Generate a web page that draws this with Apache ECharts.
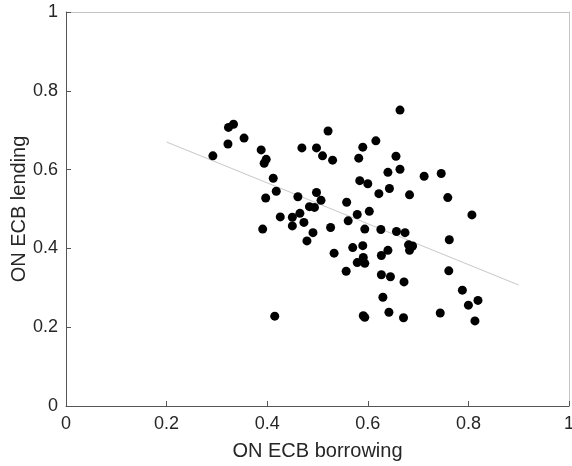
<!DOCTYPE html>
<html>
<head>
<meta charset="utf-8">
<script src="https://cdn.jsdelivr.net/npm/echarts@6/dist/echarts.min.js"></script>
<style>html,body{margin:0;padding:0;background:#fff}#c{width:572px;height:466px}</style>
</head>
<body>
<div id="c"></div>
<script>
// ON ECB borrowing (x) values
const borrowing = [
  0.292, 0.323, 0.333, 0.322, 0.354, 0.388, 0.398, 0.394, 0.412, 0.418,
  0.397, 0.461, 0.469, 0.498, 0.498, 0.507, 0.484, 0.494, 0.426, 0.450,
  0.465, 0.450, 0.473, 0.491, 0.479, 0.391, 0.415, 0.521, 0.510, 0.530,
  0.590, 0.616, 0.582, 0.664, 0.656, 0.640, 0.664, 0.712, 0.746, 0.584,
  0.600, 0.643, 0.622, 0.683, 0.759, 0.558, 0.579, 0.603, 0.561, 0.807,
  0.526, 0.594, 0.626, 0.657, 0.674, 0.681, 0.689, 0.683, 0.570, 0.590,
  0.640, 0.627, 0.533, 0.591, 0.579, 0.594, 0.557, 0.627, 0.645, 0.672,
  0.630, 0.642, 0.591, 0.594, 0.671, 0.762, 0.761, 0.788, 0.819, 0.800,
  0.744, 0.813
];
// ON ECB lending (y) values
const lending = [
  0.635, 0.707, 0.715, 0.665, 0.680, 0.650, 0.626, 0.616, 0.578, 0.545,
  0.528, 0.531, 0.655, 0.655, 0.542, 0.522, 0.506, 0.504, 0.480, 0.479,
  0.489, 0.457, 0.466, 0.440, 0.419, 0.449, 0.228, 0.698, 0.635, 0.624,
  0.657, 0.673, 0.629, 0.751, 0.634, 0.593, 0.601, 0.583, 0.590, 0.572,
  0.564, 0.552, 0.539, 0.536, 0.529, 0.517, 0.486, 0.494, 0.470, 0.485,
  0.453, 0.449, 0.448, 0.443, 0.440, 0.409, 0.406, 0.395, 0.402, 0.407,
  0.395, 0.382, 0.388, 0.377, 0.364, 0.362, 0.342, 0.333, 0.328, 0.315,
  0.276, 0.238, 0.229, 0.225, 0.224, 0.422, 0.343, 0.294, 0.268, 0.256,
  0.236, 0.216
];
// Fitted trend line end points
const trendX = [0.2, 0.9];
const trendY = [0.670, 0.307];
const xTicks = [0, 0.2, 0.4, 0.6, 0.8, 1];
const yTicks = [0, 0.2, 0.4, 0.6, 0.8, 1];

const points = borrowing.map((x, i) => [x, lending[i]]);
const trend = trendX.map((x, i) => [x, trendY[i]]);

const txt = '#262626';
const font = 'Liberation Sans, Arial, Helvetica, sans-serif';
const chart = echarts.init(document.getElementById('c'), null, {renderer: 'canvas'});
chart.setOption({
  animation: false,
  backgroundColor: '#fff',
  grid: {left: 66, right: 3, top: 12, bottom: 60, containLabel: false, outerBoundsMode: 'none'},
  xAxis: [{
    type: 'value', min: 0, max: 1, interval: 0.2,
    name: 'ON ECB borrowing', nameLocation: 'middle', nameGap: 35, nameMoveOverlap: false,
    nameTextStyle: {color: txt, fontSize: 20, fontFamily: font},
    axisLine: {show: true, lineStyle: {color: '#555', width: 1}},
    axisTick: {show: true, inside: true, length: 5, lineStyle: {color: '#555'}},
    axisLabel: {color: txt, fontSize: 18, fontFamily: font, margin: 9,
      formatter: v => xTicks.includes(+v.toFixed(1)) ? String(+v.toFixed(1)) : ''},
    splitLine: {show: false}
  }, {
    type: 'value', min: 0, max: 1, position: 'top',
    axisLine: {show: true, onZero: false, lineStyle: {color: '#c4c4c4', width: 1}},
    axisTick: {show: false}, axisLabel: {show: false}, splitLine: {show: false}
  }],
  yAxis: [{
    type: 'value', min: 0, max: 1, interval: 0.2,
    name: 'ON ECB lending', nameLocation: 'middle', nameGap: 37, nameMoveOverlap: false,
    nameTextStyle: {color: txt, fontSize: 20, fontFamily: font},
    axisLine: {show: true, lineStyle: {color: '#555', width: 1}},
    axisTick: {show: true, inside: true, length: 5, lineStyle: {color: '#555'}},
    axisLabel: {color: txt, fontSize: 18, fontFamily: font, margin: 8,
      formatter: v => yTicks.includes(+v.toFixed(1)) ? String(+v.toFixed(1)) : ''},
    splitLine: {show: false}
  }, {
    type: 'value', min: 0, max: 1, position: 'right',
    axisLine: {show: true, onZero: false, lineStyle: {color: '#c4c4c4', width: 1}},
    axisTick: {show: false}, axisLabel: {show: false}, splitLine: {show: false}
  }],
  series: [{
    type: 'line', data: trend, symbol: 'none', silent: true,
    lineStyle: {color: '#c8c8c8', width: 1}, z: 1
  }, {
    type: 'scatter', data: points, symbol: 'circle', symbolSize: 9,
    itemStyle: {color: '#000', opacity: 1}, z: 2
  }]
});
</script>
</body>
</html>
